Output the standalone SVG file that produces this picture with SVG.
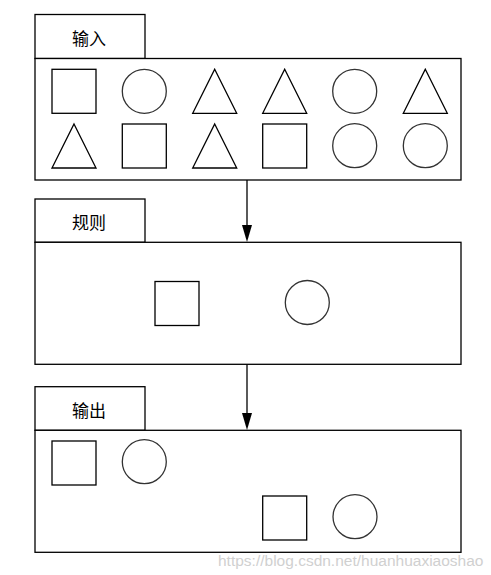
<svg xmlns="http://www.w3.org/2000/svg" width="491" height="575" viewBox="0 0 491 575">
<style>
.box{fill:#fff;stroke:#000;stroke-width:1.3}
.sh{fill:none;stroke:#000;stroke-width:1.3}
.ci{fill:none;stroke:#333;stroke-width:1.3}
.edge{stroke:#000;stroke-width:1.3}
.head{fill:#000}
.lbl{font-family:"Noto Sans CJK SC","Liberation Sans",sans-serif;font-size:17px;fill:#000;text-anchor:middle;dominant-baseline:central}
.wm{font-family:"Liberation Sans",Arial,sans-serif;font-size:15.5px;fill:#d0d0d0}
</style>
<rect width="491" height="575" fill="#fff"/>
<g id="connectors">
<line class="edge" x1="247" y1="180" x2="247" y2="226"/>
<path class="head" d="M242,225 L252,225 L247,242 Z"/>
<line class="edge" x1="247" y1="364" x2="247" y2="414"/>
<path class="head" d="M242,413 L252,413 L247,430 Z"/>
</g>
<g id="input">
<rect class="box" x="35" y="14.5" width="110" height="44"/>
<text class="lbl" x="89" y="37">输入</text>
<rect class="box" x="35" y="58.5" width="426" height="121.5"/>
<rect class="sh" x="52" y="69.3" width="44" height="44"/>
<circle class="ci" cx="144.3" cy="91.3" r="22"/>
<path class="sh" d="M214.7,69.3 L236.7,113.3 L192.7,113.3 Z"/>
<path class="sh" d="M284.7,69.3 L306.7,113.3 L262.7,113.3 Z"/>
<circle class="ci" cx="354.7" cy="91.3" r="22"/>
<path class="sh" d="M425.3,69.3 L447.3,113.3 L403.3,113.3 Z"/>
<path class="sh" d="M74,124 L96,168 L52,168 Z"/>
<rect class="sh" x="122.3" y="124" width="44" height="44"/>
<path class="sh" d="M214.7,124 L236.7,168 L192.7,168 Z"/>
<rect class="sh" x="262.7" y="124" width="44" height="44"/>
<circle class="ci" cx="354.7" cy="145.7" r="22"/>
<circle class="ci" cx="425.3" cy="145.7" r="22"/>
</g>
<g id="rule">
<rect class="box" x="35" y="199" width="110" height="43.3"/>
<text class="lbl" x="89" y="221">规则</text>
<rect class="box" x="35" y="242.3" width="426" height="122"/>
<rect class="sh" x="155" y="281.5" width="44" height="44"/>
<circle class="ci" cx="307.3" cy="302.5" r="22"/>
</g>
<g id="output">
<rect class="box" x="35" y="386.7" width="110" height="43.6"/>
<text class="lbl" x="89" y="409">输出</text>
<rect class="box" x="35" y="430.3" width="426" height="122"/>
<rect class="sh" x="52" y="441" width="44" height="44"/>
<circle class="ci" cx="144.3" cy="461.7" r="22"/>
<rect class="sh" x="262.7" y="496" width="44" height="44"/>
<circle class="ci" cx="355" cy="516.7" r="22"/>
</g>
<text class="wm" x="218" y="566">https://blog.csdn.net/huanhuaxiaoshao</text>
</svg>
